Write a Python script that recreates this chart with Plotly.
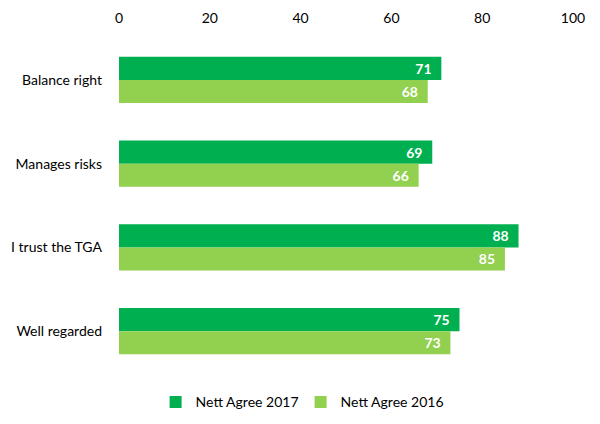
import plotly.graph_objects as go

categories = ["Balance right", "Manages risks", "I trust the TGA", "Well regarded"]
nett_2017 = [71, 69, 88, 75]
nett_2016 = [68, 66, 85, 73]
x_ticks = [0, 20, 40, 60, 80, 100]

FONT = "Lato, 'Open Sans', sans-serif"
PAD = "\u00a0\u00a0"

fig = go.Figure()
fig.add_trace(go.Bar(
    y=categories, x=nett_2017, orientation="h", name="Nett Agree 2017",
    marker=dict(color="#00B050", line=dict(width=0)),
    texttemplate="%{x}" + PAD, textposition="inside", insidetextanchor="end", textangle=0,
    textfont=dict(color="white", size=14, family=FONT, weight="bold"),
))
fig.add_trace(go.Bar(
    y=categories, x=nett_2016, orientation="h", name="Nett Agree 2016",
    marker=dict(color="#92D050", line=dict(width=0)),
    texttemplate="%{x}" + PAD, textposition="inside", insidetextanchor="end", textangle=0,
    textfont=dict(color="white", size=14, family=FONT, weight="bold"),
))

fig.update_layout(
    width=600, height=424,
    margin=dict(l=111, r=35, t=30, b=59),
    paper_bgcolor="white", plot_bgcolor="white",
    barmode="group", bargap=0.45, bargroupgap=0,
    font=dict(family=FONT, size=14, color="#000000"),
    uniformtext=dict(mode="show", minsize=10),
    legend=dict(orientation="h", x=0.40, xanchor="center", y=-0.04, yanchor="top",
                font=dict(size=14), itemwidth=30, entrywidth=100, traceorder="normal"),
    showlegend=True,
)
fig.update_xaxes(side="top", range=[0, 100], tickvals=x_ticks, showgrid=False,
                 zeroline=False, showline=False, ticks="", ticklabelstandoff=11,
                 tickfont=dict(size=14), automargin=False)
fig.update_yaxes(autorange="reversed", showgrid=False, zeroline=False, showline=False,
                 ticks="", ticklabelstandoff=16, tickfont=dict(size=14), automargin=False)

fig.write_html("out.html")
